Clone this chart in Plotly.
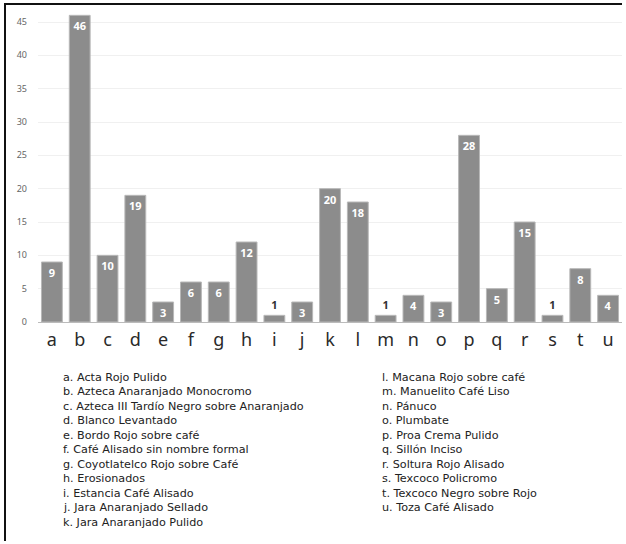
import plotly.graph_objects as go

# Ceramic types (letter codes) and sherd counts
letters = list("abcdefghijklmnopqrstu")
counts = [9, 46, 10, 19, 3, 6, 6, 12, 1, 3, 20, 18, 1, 4, 3, 28, 5, 15, 1, 8, 4]

names_left = [
    "a. Acta Rojo Pulido",
    "b. Azteca Anaranjado Monocromo",
    "c. Azteca III Tardío Negro sobre Anaranjado",
    "d. Blanco Levantado",
    "e. Bordo Rojo sobre café",
    "f. Café Alisado sin nombre formal",
    "g. Coyotlatelco Rojo sobre Café",
    "h. Erosionados",
    "i. Estancia Café Alisado",
    "j. Jara Anaranjado Sellado",
    "k. Jara Anaranjado Pulido",
]
names_right = [
    "l. Macana Rojo sobre café",
    "m. Manuelito Café Liso",
    "n. Pánuco",
    "o. Plumbate",
    "p. Proa Crema Pulido",
    "q. Sillón Inciso",
    "r. Soltura Rojo Alisado",
    "s. Texcoco Policromo",
    "t. Texcoco Negro sobre Rojo",
    "u. Toza Café Alisado",
]

W, H = 626, 544
plot_top, plot_bottom = 12, 322

positions = ["outside" if v < 2 else "inside" for v in counts]
label_colors = ["#333333" if v < 2 else "white" for v in counts]

fig = go.Figure(go.Bar(
    x=letters,
    y=counts,
    text=[str(v) for v in counts],
    textposition=positions,
    insidetextanchor="end",
    textangle=0,
    constraintext="none",
    cliponaxis=False,
    textfont=dict(family="Noto Sans", size=11, color=label_colors, weight="bold"),
    marker=dict(color="#8c8c8c", line=dict(color="#b8b8b8", width=1)),
    hoverinfo="skip",
))

fig.update_layout(
    width=W, height=H,
    margin=dict(l=38, r=4, t=plot_top, b=H - plot_bottom, pad=0),
    paper_bgcolor="white",
    plot_bgcolor="white",
    bargap=0.25,
    showlegend=False,
    font=dict(family="Noto Sans", color="#333333"),
    xaxis=dict(
        tickfont=dict(size=18, color="#2a2a2a"),
        showgrid=False,
        ticks="",
        showline=False,
        ticklabelstandoff=5,
    ),
    yaxis=dict(
        range=[0, 46.5],
        tickvals=[0, 5, 10, 15, 20, 25, 30, 35, 40, 45],
        tickfont=dict(size=9, color="#666666"),
        showgrid=True,
        gridcolor="#f0f0f0",
        gridwidth=1,
        zeroline=True,
        zerolinecolor="#bbbbbb",
        zerolinewidth=1,
        ticks="",
        ticklabelstandoff=10,
    ),
)

# Key listing the full type names in two columns
line_h = 14.5
y0 = 377
key_font = dict(family="DejaVu Sans", size=11.2, color="#222222")

def px_x(p):
    return (p - 38) / (W - 42)

def px_y(p):
    return 1 - (p - plot_top) / (plot_bottom - plot_top)

for col_x, names in ((62, names_left), (381, names_right)):
    for i, t in enumerate(names):
        fig.add_annotation(
            text=t, xref="paper", yref="paper",
            x=px_x(col_x), y=px_y(y0 + i * line_h),
            xanchor="left", yanchor="middle", showarrow=False,
            borderpad=0,
            font=key_font,
        )

# Frame lines along the top and left edges of the figure
fig.add_shape(type="line", xref="paper", yref="paper",
              x0=px_x(4), x1=px_x(622), y0=px_y(4), y1=px_y(4),
              line=dict(color="#111111", width=2))
fig.add_shape(type="line", xref="paper", yref="paper",
              x0=px_x(5), x1=px_x(5), y0=px_y(4), y1=px_y(541),
              line=dict(color="#111111", width=2))

fig.write_html("out.html")
